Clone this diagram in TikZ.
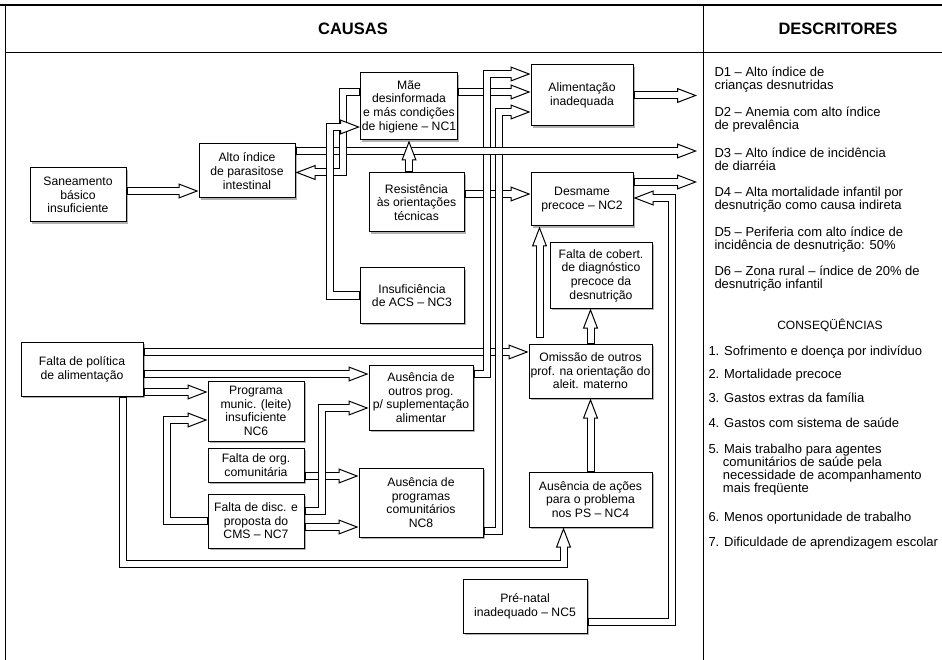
\documentclass[tikz,border=0pt]{standalone}
\usepackage{fontspec}
\setmainfont{Liberation Sans}
\usetikzlibrary{arrows.meta,shadows}

\begin{document}
\begin{tikzpicture}[x=1pt, y=-1pt, line width=1pt,
    caixa/.style={draw, line width=1pt, fill=white, align=center, inner sep=1pt,
      font=\fontsize{12.2}{13.6}\selectfont,
      drop shadow={shadow xshift=1.6pt, shadow yshift=-1.6pt, fill=black!30, opacity=1}},
    seta/.style={draw=black, line width=8pt, line join=miter,
      -{Triangle[length=20pt 0 0, width=15pt 0 0, line width=1pt 0 0, fill=white]},
      postaction={draw=white, line width=6pt, arrows=-, shorten >=18.5pt, shorten <=1pt}},
    texto/.style={anchor=west, align=left, inner sep=0pt, font=\fontsize{13}{13}\selectfont}]
    \useasboundingbox (0,0) rectangle (942,660);
    \draw[line width=2.5pt] (0,5) -- (942,5);
    \draw (5,53) -- (942,53);
    \draw (5,5) -- (5,660);
    \draw (703,5) -- (703,660);
    \node[font=\bfseries\fontsize{16.5}{17}\selectfont] (causas) at (353,29) {CAUSAS};
    \node[font=\bfseries\fontsize{16.5}{17}\selectfont] (descr) at (838,29) {DESCRITORES};

    \node[caixa, minimum width=96pt, minimum height=54pt]
    (san) at (78,195) {Saneamento\\básico\\insuficiente};
    \node[caixa, minimum width=96pt, minimum height=54pt]
    (alto) at (247,171) {Alto índice\\de parasitose\\intestinal};
    \node[caixa, minimum width=97pt, minimum height=67pt]
    (mae) at (409,106.5) {Mãe\\desinformada\\e más condições\\de higiene – NC1};
    \node[caixa, minimum width=102pt, minimum height=61pt]
    (alim) at (582,95.5) {Alimentação\\inadequada};
    \node[caixa, minimum width=95pt, minimum height=59pt]
    (resis) at (416.5,202.5) {Resistência\\às orientações\\técnicas};
    \node[caixa, minimum width=102pt, minimum height=53pt]
    (desm) at (582,199.5) {Desmame\\precoce – NC2};
    \node[caixa, minimum width=102pt, minimum height=65pt]
    (cob) at (601,275.5) {Falta de cobert.\\de diagnóstico\\precoce da\\desnutrição};
    \node[caixa, minimum width=104pt, minimum height=55pt]
    (acs) at (412,295.5) {Insuficiência\\de ACS – NC3};
    \node[caixa, minimum width=122pt, minimum height=54pt]
    (pol) at (82,369) {Falta de política\\de alimentação};
    \node[caixa, minimum width=123pt, minimum height=54pt]
    (omis) at (590.5,371) {Omissão de outros\\prof. na orientação do\\aleit. materno};
    \node[caixa, minimum width=104pt, minimum height=65pt]
    (supl) at (421,397.5) {Ausência de\\outros prog.\\p/ suplementação\\alimentar};
    \node[caixa, minimum width=96pt, minimum height=60pt]
    (leite) at (256,411) {Programa\\munic. (leite)\\insuficiente\\NC6};
    \node[caixa, minimum width=96pt, minimum height=34pt]
    (org) at (256,465) {Falta de org.\\comunitária};
    \node[caixa, minimum width=96pt, minimum height=54pt]
    (cms) at (256,521) {Falta de disc. e\\proposta do\\CMS – NC7};
    \node[caixa, minimum width=124pt, minimum height=69pt]
    (progr) at (421,502.5) {Ausência de\\programas\\comunitários\\NC8};
    \node[caixa, minimum width=123pt, minimum height=55pt]
    (ps) at (590.5,499.5) {Ausência de ações\\para o problema\\nos PS – NC4};
    \node[caixa, minimum width=124pt, minimum height=54pt]
    (pre) at (525,606) {Pré-natal\\inadequado – NC5};
    \coordinate (limite) at (697,0);

    \draw[seta] ([yshift=4pt]san.east) -- ([yshift=4pt]san.east -| alto.west);
    \draw[seta] (alim.east) -- (alim.east -| limite);
    \draw[seta] ([yshift=17.5pt]desm.east) -- ([yshift=17.5pt]desm.east -| limite);
    \draw[seta] ([yshift=14.5pt]mae.east) -- ([yshift=14.5pt]mae.east -| alim.west);
    \draw[seta] ([yshift=8.5pt]resis.east) -- ([yshift=8.5pt]resis.east -| desm.west);
    \draw[seta] ([yshift=17pt]pol.east) -- ([yshift=17pt]pol.east -| omis.west);
    \draw[seta] ([yshift=-5pt]pol.east) -- ([yshift=-5pt]pol.east -| supl.west);
    \draw[seta] ([yshift=-23pt]pol.east) -- ([yshift=-23pt]pol.east -| leite.west);
    \draw[seta] ([yshift=-11pt]org.east) -- ([yshift=-11pt]org.east -| progr.west);
    \draw[seta] ([yshift=-6pt]cms.east) -- ([yshift=-6pt]cms.east -| progr.west);
    \draw[seta] ([yshift=23.5pt]supl.east) -- ++(13,0) |- ([yshift=21.5pt]alim.west);
    \draw[seta] ([yshift=-28.5pt]progr.east) -- ++(15.5,0) |- ([yshift=-16.5pt]alim.west);
    \draw[seta] ([yshift=10pt]cms.east) -- ++(17.5,0) |- ([yshift=-10.5pt]supl.west);
    \draw[seta] (cms.west) -- ++(-41,0) |- ([yshift=-9pt]leite.west);
    \draw[seta] ([xshift=40.5pt]pol.south) -- ++(0,167.5) -| ([xshift=-27pt]ps.south);
    \draw[seta] (ps.north) -- (omis.south);
    \draw[seta] (omis.north) -- (omis.north |- cob.south);
    \draw[seta] ([xshift=-51pt, yshift=6pt]omis.north) -- ([xshift=-51pt]omis.north |- desm.south);
    \draw[seta] ([yshift=-16pt]pre.east) -- ++(84,0) |- ([yshift=1.5pt]desm.east);
    \draw[seta] ([yshift=20pt]alto.east) -- ([yshift=20pt]alto.east -| limite);
    \draw[seta] ([yshift=14.5pt]mae.west) -- ++(-17.5,0) |- ([yshift=-1.5pt]alto.east);
    \draw[seta] (acs.west) -- ++(-30,0) |- ([yshift=-20.5pt]mae.west);
    \draw[seta] (mae.south |- resis.north) -- (mae.south);

    \node[texto] (d1) at (714,80) {D1 – Alto índice de\\crianças desnutridas};
    \node[texto] (d2) at (714,120) {D2 – Anemia com alto índice\\de prevalência};
    \node[texto] (d3) at (714,159.5) {D3 – Alto índice de incidência\\de diarréia};
    \node[texto] (d4) at (714,199.5) {D4 – Alta mortalidade infantil por\\desnutrição como causa indireta};
    \node[texto] (d5) at (714,239.5) {D5 – Periferia com alto índice de\\incidência de desnutrição: 50\%};
    \node[texto] (d6) at (714,279) {D6 – Zona rural – índice de 20\% de\\desnutrição infantil};
    \node[font=\fontsize{12}{12}\selectfont] (conseq) at (830,325) {CONSEQÜÊNCIAS};
    \node[texto] (q1) at (708,352) {1. Sofrimento e doença por indivíduo};
    \node[texto] (q2) at (708,375) {2. Mortalidade precoce};
    \node[texto] (q3) at (708,398) {3. Gastos extras da família};
    \node[texto] (q4) at (708,423) {4. Gastos com sistema de saúde};
    \node[texto] (q5) at (708,470) {5. Mais trabalho para agentes\\\hphantom{5.}\ comunitários de saúde pela\\\hphantom{5.}\ necessidade de acompanhamento\\\hphantom{5.}\ mais freqüente};
    \node[texto] (q6) at (708,518) {6. Menos oportunidade de trabalho};
    \node[texto] (q7) at (708,543) {7. Dificuldade de aprendizagem escolar};
\end{tikzpicture}
\end{document}
